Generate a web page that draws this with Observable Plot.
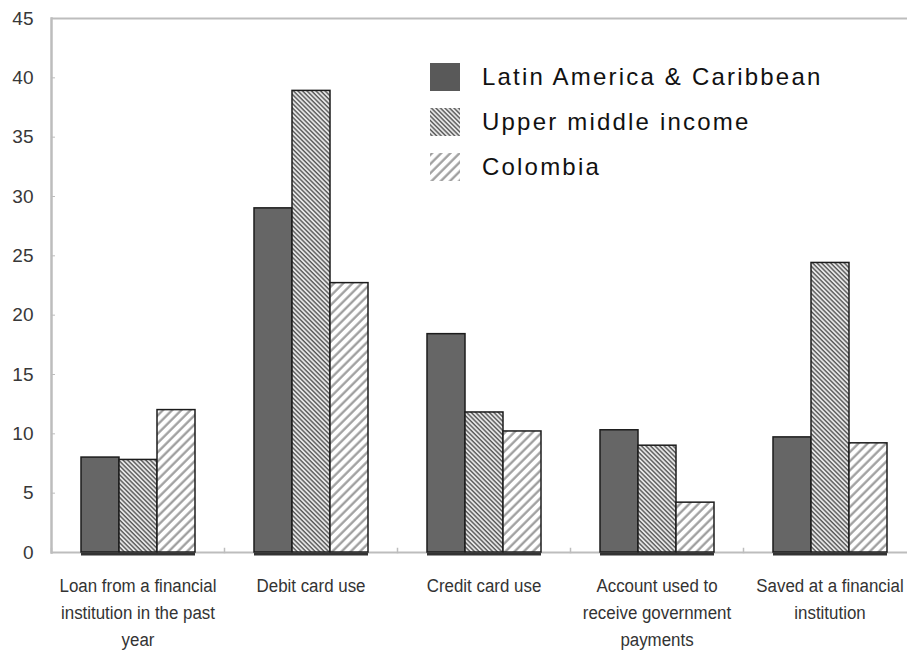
<!DOCTYPE html>
<html>
<head>
<meta charset="utf-8">
<script src="https://cdn.jsdelivr.net/npm/d3@7"></script>
<script src="https://cdn.jsdelivr.net/npm/@observablehq/plot@0.6"></script>
<style>
  html, body { margin: 0; padding: 0; background: #fff; overflow: hidden; }
  #wrap { position: relative; width: 907px; height: 653px; overflow: hidden; }
  #legend { position: absolute; left: 430px; top: 54px; font-family: "Liberation Sans", Arial, sans-serif; font-size: 24px; letter-spacing: 2.2px; color: #111; }
  .item { display: flex; align-items: center; height: 45px; }
  .item svg { width: 30px; height: 28px; margin-right: 22px; flex: none; }
</style>
</head>
<body>
<div id="wrap"><div id="chart"></div><div id="legend"></div></div>
<script>
const categories = [
  "Loan from a financial institution in the past year",
  "Debit card use",
  "Credit card use",
  "Account used to receive government payments",
  "Saved at a financial institution"
];
const categoryLabels = [
  "Loan from a financial\ninstitution in the past\nyear",
  "Debit card use",
  "Credit card use",
  "Account used to\nreceive government\npayments",
  "Saved at a financial\ninstitution"
];
const series = ["Latin America & Caribbean", "Upper middle income", "Colombia"];
const lac = [8.0, 29.0, 18.4, 10.3, 9.7];
const umi = [7.8, 38.9, 11.8, 9.0, 24.4];
const col = [12.0, 22.7, 10.2, 4.2, 9.2];
const yTicks = [0, 5, 10, 15, 20, 25, 30, 35, 40, 45];

const fills = ["#666666", "url(#hatchUMI)", "url(#hatchCol)"];
const valuesBySeries = [lac, umi, col];
const data = [];
categories.forEach((c, i) => series.forEach((s, j) => data.push({category: c, series: s, value: valuesBySeries[j][i]})));
const labelOf = new Map(categories.map((c, i) => [c, categoryLabels[i]]));

function defs() {
  const d = d3.create("svg:defs");
  const p1 = d.append("pattern").attr("id", "hatchUMI").attr("patternUnits", "userSpaceOnUse")
    .attr("width", 3.2).attr("height", 3.2).attr("patternTransform", "rotate(-45)");
  p1.append("rect").attr("width", 3.2).attr("height", 3.2).attr("fill", "#f2f2f2");
  p1.append("line").attr("x1", 1).attr("y1", 0).attr("x2", 1).attr("y2", 3.2).attr("stroke", "#555").attr("stroke-width", 1.5);
  const p2 = d.append("pattern").attr("id", "hatchCol").attr("patternUnits", "userSpaceOnUse")
    .attr("width", 6.5).attr("height", 6.5).attr("patternTransform", "rotate(45)");
  p2.append("rect").attr("width", 6.5).attr("height", 6.5).attr("fill", "#ffffff");
  p2.append("line").attr("x1", 1.5).attr("y1", 0).attr("x2", 1.5).attr("y2", 6.5).attr("stroke", "#9a9a9a").attr("stroke-width", 2.2);
  return d.node();
}

const axisColor = "#bdbdbd";
const font = "'Liberation Sans', Arial, sans-serif";

const chart = Plot.plot({
  width: 917,
  height: 653,
  marginLeft: 50,
  marginRight: 0,
  marginTop: 18,
  marginBottom: 101,
  style: {fontFamily: font, background: "#fff", maxWidth: "none", overflow: "visible"},
  fx: {domain: categories, padding: 0, axis: null, label: null},
  x: {domain: series, paddingInner: 0, paddingOuter: 0.72, axis: null, label: null},
  y: {domain: [0, 45], axis: null, label: null},
  color: {type: "ordinal", domain: series, range: fills},
  marks: [
    defs,
    Plot.ruleY([45], {stroke: axisColor, strokeWidth: 2}),
    Plot.ruleY([0], {stroke: axisColor, strokeWidth: 2}),
    Plot.frame({anchor: "left", insetTop: 530, stroke: axisColor, strokeWidth: 1.5}),
    Plot.frame({anchor: "left", facetAnchor: "left", stroke: axisColor, strokeWidth: 2.5}),
    Plot.axisY(yTicks, {anchor: "left", tickSize: -4, text: null, label: null, stroke: axisColor, strokeWidth: 1}),
    Plot.axisY(yTicks, {anchor: "left", tickSize: 0, tickPadding: 18, label: null, fontSize: 19, fill: "#383838"}),
    Plot.barY(data, {fx: "category", x: "series", y: "value", fill: "series", stroke: "#1c1c1c", strokeWidth: 1.5}),
    Plot.tickY(data, {fx: "category", x: "series", y: 0, dy: 1.5, stroke: "#333", strokeWidth: 3}),
    Plot.axisFx({anchor: "bottom", tickSize: 0, tickPadding: 20, label: null, fontSize: 19, lineHeight: 1.42, fill: "#333",
      tickFormat: d => labelOf.get(d)})
  ]
});
document.getElementById("chart").appendChild(chart);

// condense the category labels, as in the reference
const flat = new Set(categoryLabels.map(l => l.replace(/\n/g, "")));
d3.select(chart).selectAll("text").filter(function() { return flat.has(this.textContent); }).each(function() {
  const t = this.getAttribute("transform");
  if (t) this.setAttribute("transform", t + " scale(0.89,1)");
  else {
    this.style.transformBox = "fill-box";
    this.style.transformOrigin = "center";
    this.style.transform = "scaleX(0.89)";
  }
});

// legend (uses the same patterns defined in the chart)
const legend = d3.select("#legend");
series.forEach((s, j) => {
  const item = legend.append("div").attr("class", "item");
  const sw = item.append("svg").attr("viewBox", "0 0 30 28");
  sw.append("rect").attr("width", 30).attr("height", 28).attr("fill", j === 0 ? "#595959" : fills[j]);
  item.append("span").text(s);
});
</script>
</body>
</html>
